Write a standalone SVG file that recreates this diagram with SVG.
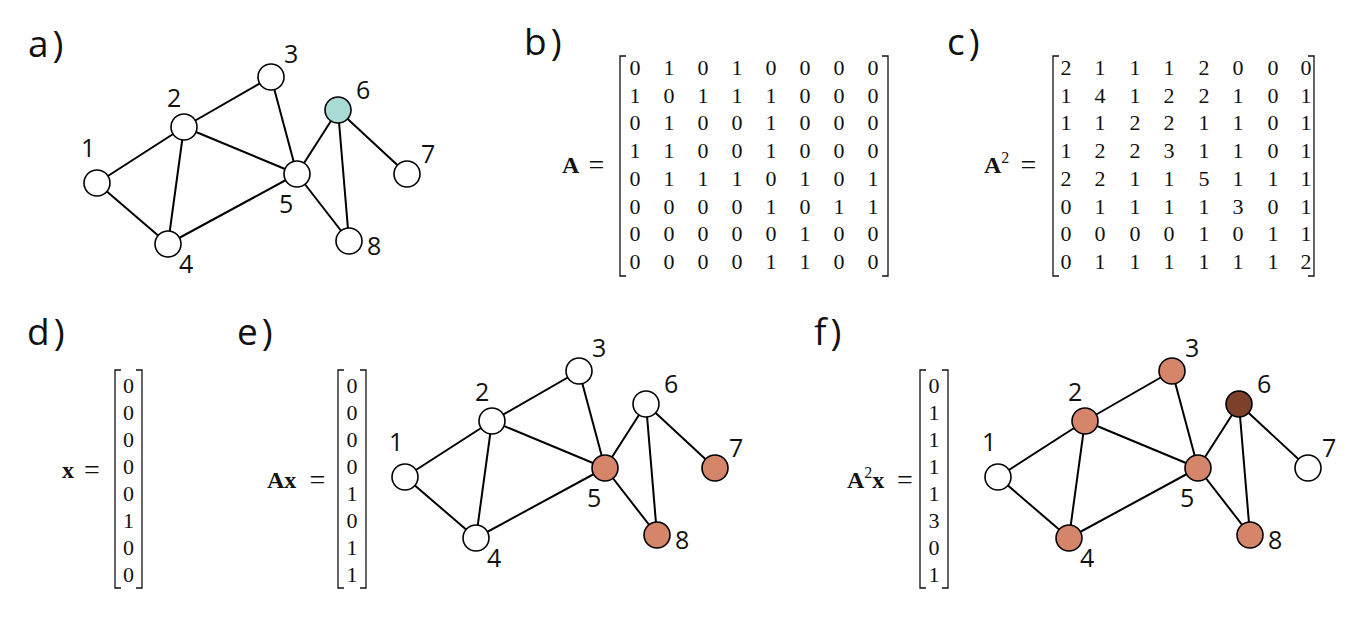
<svg xmlns="http://www.w3.org/2000/svg" width="1360" height="618" viewBox="0 0 1360 618">
<style>
.panel{font-family:"Open Sans","DejaVu Sans",sans-serif;font-size:37px;letter-spacing:4px;fill:#111}
.nl{font-family:"Open Sans","DejaVu Sans",sans-serif;font-size:25px;fill:#111}
.m{font-family:"Liberation Serif","DejaVu Serif",serif;font-size:22px;fill:#111;text-anchor:middle}
.eq{font-family:"Liberation Serif","DejaVu Serif",serif;font-size:24px;fill:#111}
.q{font-family:"Liberation Serif","DejaVu Serif",serif;font-size:28px;fill:#111;text-anchor:middle}
.b{font-weight:bold}
.br{fill:none;stroke:#111;stroke-width:1.3}
.e line{stroke:#000;stroke-width:2}
.n circle{stroke:#000;stroke-width:1.6}
.w{fill:#fff}.t{fill:#a8dbd3}.o{fill:#d4856a}.d{fill:#7d402a}
</style>
<rect width="1360" height="618" fill="#fff"/>
<text class="panel" x="28" y="57">a)</text>
<text class="panel" x="524" y="55">b)</text>
<text class="panel" x="947" y="55">c)</text>
<text class="panel" x="27" y="345">d)</text>
<text class="panel" x="237" y="345">e)</text>
<text class="panel" x="814" y="345">f)</text>

<!-- Graph a -->
<g id="graphA">
<g class="e" id="edgesA">
<line x1="97" y1="183" x2="184" y2="127"/><line x1="97" y1="183" x2="168" y2="244"/>
<line x1="184" y1="127" x2="271" y2="77"/><line x1="184" y1="127" x2="168" y2="244"/>
<line x1="184" y1="127" x2="297" y2="174"/><line x1="271" y1="77" x2="297" y2="174"/>
<line x1="168" y1="244" x2="297" y2="174"/><line x1="297" y1="174" x2="338" y2="110"/>
<line x1="297" y1="174" x2="349" y2="241"/><line x1="338" y1="110" x2="407" y2="174"/>
<line x1="338" y1="110" x2="349" y2="241"/>
</g>
<g class="n" id="a1"><circle class="w" cx="97" cy="183" r="13"/><text class="nl" x="81" y="157">1</text></g>
<g class="n" id="a2"><circle class="w" cx="184" cy="127" r="13"/><text class="nl" x="167" y="107">2</text></g>
<g class="n" id="a3"><circle class="w" cx="271" cy="77" r="13"/><text class="nl" x="284" y="63">3</text></g>
<g class="n" id="a4"><circle class="w" cx="168" cy="244" r="13"/><text class="nl" x="179" y="273">4</text></g>
<g class="n" id="a5"><circle class="w" cx="297" cy="174" r="13"/><text class="nl" x="279" y="213">5</text></g>
<g class="n" id="a6"><circle class="t" cx="338" cy="110" r="13"/><text class="nl" x="356" y="99">6</text></g>
<g class="n" id="a7"><circle class="w" cx="407" cy="174" r="13"/><text class="nl" x="421" y="163">7</text></g>
<g class="n" id="a8"><circle class="w" cx="349" cy="241" r="13"/><text class="nl" x="367" y="255">8</text></g>
</g>

<!-- Graph e -->
<g id="graphE" transform="translate(308,294)">
<g class="e" id="edgesE">
<line x1="97" y1="183" x2="184" y2="127"/><line x1="97" y1="183" x2="168" y2="244"/>
<line x1="184" y1="127" x2="271" y2="77"/><line x1="184" y1="127" x2="168" y2="244"/>
<line x1="184" y1="127" x2="297" y2="174"/><line x1="271" y1="77" x2="297" y2="174"/>
<line x1="168" y1="244" x2="297" y2="174"/><line x1="297" y1="174" x2="338" y2="110"/>
<line x1="297" y1="174" x2="349" y2="241"/><line x1="338" y1="110" x2="407" y2="174"/>
<line x1="338" y1="110" x2="349" y2="241"/>
</g>
<g class="n" id="e1"><circle class="w" cx="97" cy="183" r="13"/><text class="nl" x="81" y="157">1</text></g>
<g class="n" id="e2"><circle class="w" cx="184" cy="127" r="13"/><text class="nl" x="167" y="107">2</text></g>
<g class="n" id="e3"><circle class="w" cx="271" cy="77" r="13"/><text class="nl" x="284" y="63">3</text></g>
<g class="n" id="e4"><circle class="w" cx="168" cy="244" r="13"/><text class="nl" x="179" y="273">4</text></g>
<g class="n" id="e5"><circle class="o" cx="297" cy="174" r="13"/><text class="nl" x="279" y="213">5</text></g>
<g class="n" id="e6"><circle class="w" cx="338" cy="110" r="13"/><text class="nl" x="356" y="99">6</text></g>
<g class="n" id="e7"><circle class="o" cx="407" cy="174" r="13"/><text class="nl" x="421" y="163">7</text></g>
<g class="n" id="e8"><circle class="o" cx="349" cy="241" r="13"/><text class="nl" x="367" y="255">8</text></g>
</g>

<!-- Graph f -->
<g id="graphF" transform="translate(901,294)">
<g class="e" id="edgesF">
<line x1="97" y1="183" x2="184" y2="127"/><line x1="97" y1="183" x2="168" y2="244"/>
<line x1="184" y1="127" x2="271" y2="77"/><line x1="184" y1="127" x2="168" y2="244"/>
<line x1="184" y1="127" x2="297" y2="174"/><line x1="271" y1="77" x2="297" y2="174"/>
<line x1="168" y1="244" x2="297" y2="174"/><line x1="297" y1="174" x2="338" y2="110"/>
<line x1="297" y1="174" x2="349" y2="241"/><line x1="338" y1="110" x2="407" y2="174"/>
<line x1="338" y1="110" x2="349" y2="241"/>
</g>
<g class="n" id="f1"><circle class="w" cx="97" cy="183" r="13"/><text class="nl" x="81" y="157">1</text></g>
<g class="n" id="f2"><circle class="o" cx="184" cy="127" r="13"/><text class="nl" x="167" y="107">2</text></g>
<g class="n" id="f3"><circle class="o" cx="271" cy="77" r="13"/><text class="nl" x="284" y="63">3</text></g>
<g class="n" id="f4"><circle class="o" cx="168" cy="244" r="13"/><text class="nl" x="179" y="273">4</text></g>
<g class="n" id="f5"><circle class="o" cx="297" cy="174" r="13"/><text class="nl" x="279" y="213">5</text></g>
<g class="n" id="f6"><circle class="d" cx="338" cy="110" r="13"/><text class="nl" x="356" y="99">6</text></g>
<g class="n" id="f7"><circle class="w" cx="407" cy="174" r="13"/><text class="nl" x="421" y="163">7</text></g>
<g class="n" id="f8"><circle class="o" cx="349" cy="241" r="13"/><text class="nl" x="367" y="255">8</text></g>
</g>

<!-- Matrix A -->
<g id="matA">
<text class="eq b" x="562" y="173">A</text><text class="q" x="596.5" y="174">=</text>
<path class="br" d="M626,56 H620 V276 H626 M882,56 H888 V276 H882"/>
<g class="m">
<text y="75"><tspan x="635">0</tspan><tspan x="669">1</tspan><tspan x="703">0</tspan><tspan x="737">1</tspan><tspan x="771">0</tspan><tspan x="805">0</tspan><tspan x="839">0</tspan><tspan x="873">0</tspan></text>
<text y="102.7"><tspan x="635">1</tspan><tspan x="669">0</tspan><tspan x="703">1</tspan><tspan x="737">1</tspan><tspan x="771">1</tspan><tspan x="805">0</tspan><tspan x="839">0</tspan><tspan x="873">0</tspan></text>
<text y="130.4"><tspan x="635">0</tspan><tspan x="669">1</tspan><tspan x="703">0</tspan><tspan x="737">0</tspan><tspan x="771">1</tspan><tspan x="805">0</tspan><tspan x="839">0</tspan><tspan x="873">0</tspan></text>
<text y="158.1"><tspan x="635">1</tspan><tspan x="669">1</tspan><tspan x="703">0</tspan><tspan x="737">0</tspan><tspan x="771">1</tspan><tspan x="805">0</tspan><tspan x="839">0</tspan><tspan x="873">0</tspan></text>
<text y="185.8"><tspan x="635">0</tspan><tspan x="669">1</tspan><tspan x="703">1</tspan><tspan x="737">1</tspan><tspan x="771">0</tspan><tspan x="805">1</tspan><tspan x="839">0</tspan><tspan x="873">1</tspan></text>
<text y="213.5"><tspan x="635">0</tspan><tspan x="669">0</tspan><tspan x="703">0</tspan><tspan x="737">0</tspan><tspan x="771">1</tspan><tspan x="805">0</tspan><tspan x="839">1</tspan><tspan x="873">1</tspan></text>
<text y="241.2"><tspan x="635">0</tspan><tspan x="669">0</tspan><tspan x="703">0</tspan><tspan x="737">0</tspan><tspan x="771">0</tspan><tspan x="805">1</tspan><tspan x="839">0</tspan><tspan x="873">0</tspan></text>
<text y="268.9"><tspan x="635">0</tspan><tspan x="669">0</tspan><tspan x="703">0</tspan><tspan x="737">0</tspan><tspan x="771">1</tspan><tspan x="805">1</tspan><tspan x="839">0</tspan><tspan x="873">0</tspan></text>
</g>
</g>

<!-- Matrix A^2 -->
<g id="matA2">
<text class="eq" x="984" y="173"><tspan class="b">A</tspan><tspan font-size="16" dy="-10">2</tspan></text><text class="q" x="1028.5" y="174">=</text>
<path class="br" d="M1059,56 H1053 V276 H1059 M1308,56 H1314 V276 H1308"/>
<g class="m">
<text y="75"><tspan x="1066">2</tspan><tspan x="1100">1</tspan><tspan x="1135">1</tspan><tspan x="1169">1</tspan><tspan x="1204">2</tspan><tspan x="1238">0</tspan><tspan x="1273">0</tspan><tspan x="1306">0</tspan></text>
<text y="102.7"><tspan x="1066">1</tspan><tspan x="1100">4</tspan><tspan x="1135">1</tspan><tspan x="1169">2</tspan><tspan x="1204">2</tspan><tspan x="1238">1</tspan><tspan x="1273">0</tspan><tspan x="1306">1</tspan></text>
<text y="130.4"><tspan x="1066">1</tspan><tspan x="1100">1</tspan><tspan x="1135">2</tspan><tspan x="1169">2</tspan><tspan x="1204">1</tspan><tspan x="1238">1</tspan><tspan x="1273">0</tspan><tspan x="1306">1</tspan></text>
<text y="158.1"><tspan x="1066">1</tspan><tspan x="1100">2</tspan><tspan x="1135">2</tspan><tspan x="1169">3</tspan><tspan x="1204">1</tspan><tspan x="1238">1</tspan><tspan x="1273">0</tspan><tspan x="1306">1</tspan></text>
<text y="185.8"><tspan x="1066">2</tspan><tspan x="1100">2</tspan><tspan x="1135">1</tspan><tspan x="1169">1</tspan><tspan x="1204">5</tspan><tspan x="1238">1</tspan><tspan x="1273">1</tspan><tspan x="1306">1</tspan></text>
<text y="213.5"><tspan x="1066">0</tspan><tspan x="1100">1</tspan><tspan x="1135">1</tspan><tspan x="1169">1</tspan><tspan x="1204">1</tspan><tspan x="1238">3</tspan><tspan x="1273">0</tspan><tspan x="1306">1</tspan></text>
<text y="241.2"><tspan x="1066">0</tspan><tspan x="1100">0</tspan><tspan x="1135">0</tspan><tspan x="1169">0</tspan><tspan x="1204">1</tspan><tspan x="1238">0</tspan><tspan x="1273">1</tspan><tspan x="1306">1</tspan></text>
<text y="268.9"><tspan x="1066">0</tspan><tspan x="1100">1</tspan><tspan x="1135">1</tspan><tspan x="1169">1</tspan><tspan x="1204">1</tspan><tspan x="1238">1</tspan><tspan x="1273">1</tspan><tspan x="1306">2</tspan></text>
</g>
</g>

<!-- Vector x -->
<g id="vecX">
<text class="eq b" x="62" y="478">x</text><text class="q" x="92" y="479">=</text>
<path class="br" d="M121,370 H115 V588 H121 M136,370 H142 V588 H136"/>
<g class="m">
<text x="128.5" y="393">0</text><text x="128.5" y="420">0</text><text x="128.5" y="447">0</text><text x="128.5" y="474">0</text>
<text x="128.5" y="501">0</text><text x="128.5" y="528">1</text><text x="128.5" y="555">0</text><text x="128.5" y="582">0</text>
</g>
</g>

<!-- Vector Ax -->
<g id="vecAx">
<text class="eq b" x="267" y="488">Ax</text><text class="q" x="317.5" y="489">=</text>
<path class="br" d="M344,370 H338 V588 H344 M360,370 H366 V588 H360"/>
<g class="m">
<text x="352" y="393">0</text><text x="352" y="420">0</text><text x="352" y="447">0</text><text x="352" y="474">0</text>
<text x="352" y="501">1</text><text x="352" y="528">0</text><text x="352" y="555">1</text><text x="352" y="582">1</text>
</g>
</g>

<!-- Vector A^2x -->
<g id="vecA2x">
<text class="eq" x="847" y="488"><tspan class="b">A</tspan><tspan font-size="16" dy="-10">2</tspan><tspan class="b" dy="10">x</tspan></text><text class="q" x="905" y="489">=</text>
<path class="br" d="M926,370 H920 V588 H926 M942,370 H948 V588 H942"/>
<g class="m">
<text x="934" y="393">0</text><text x="934" y="420">1</text><text x="934" y="447">1</text><text x="934" y="474">1</text>
<text x="934" y="501">1</text><text x="934" y="528">3</text><text x="934" y="555">0</text><text x="934" y="582">1</text>
</g>
</g>
</svg>
